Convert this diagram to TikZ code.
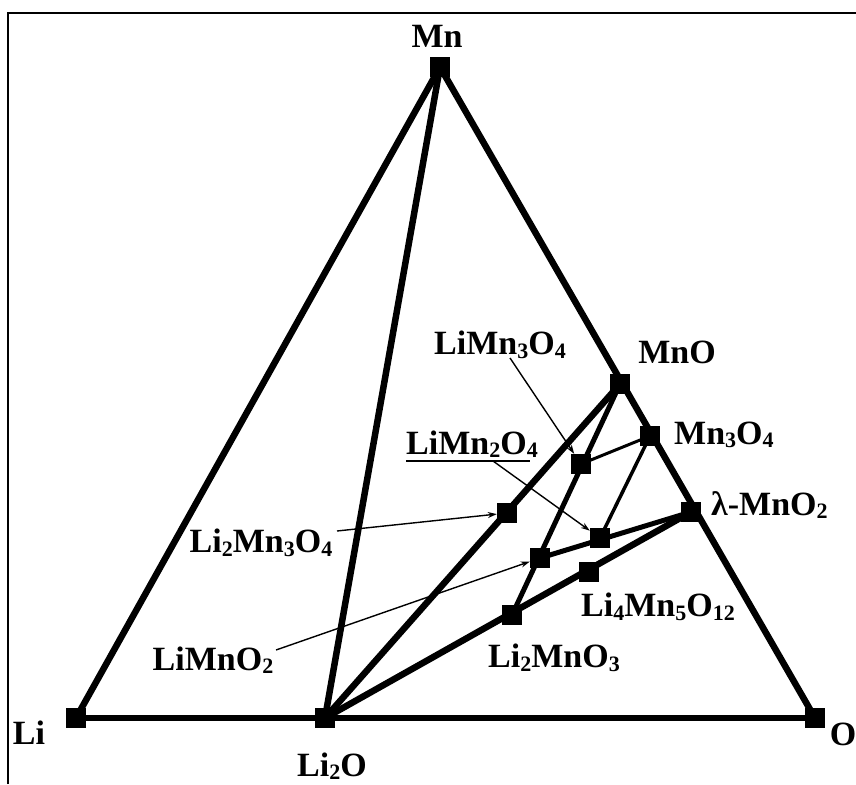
\documentclass[tikz,border=0pt]{standalone}
\usepackage{fontspec}
\setmainfont{Liberation Serif}
\usetikzlibrary{arrows.meta}
\newcommand{\sbs}[1]{\raisebox{-0.1em}{\fontsize{22}{22}\selectfont #1}}
\tikzset{
  sq/.style={rectangle, fill=black, minimum size=20pt, inner sep=0pt},
  lbl/.style={font=\fontsize{34}{34}\selectfont\bfseries, inner sep=0pt},
  thickln/.style={line width=6.5pt},
  midln/.style={line width=5pt},
  thinln/.style={line width=3pt},
  ptr/.style={line width=1.4pt, -{Stealth[length=9pt,width=6pt]}},
}
\begin{document}
\begin{tikzpicture}[x=1pt,y=-1pt]
\useasboundingbox (0,0) rectangle (856,784);
\fill[white] (0,0) rectangle (856,784);
\draw[line width=1.5pt] (8,784) -- (8,13) -- (856,13);

% squares
\node[sq] (Mn) at (440,67) {};
\node[sq] (Li) at (76,718) {};
\node[sq] (LiO) at (325,718) {};
\node[sq] (O) at (815,718) {};
\node[sq] (MnO) at (620,384) {};
\node[sq] (MnthreeO) at (650,436) {};
\node[sq] (lam) at (691,512) {};
\node[sq] (LiMnthree) at (581,464) {};
\node[sq] (LitwoMnthree) at (507,513) {};
\node[sq] (LiMntwo) at (600,538) {};
\node[sq] (LiMnOtwo) at (540,558) {};
\node[sq] (Lifour) at (589,572) {};
\node[sq] (LitwoMnO) at (512,615) {};

% main lines
\draw[thickln] (Li.center) -- (O.center);
\draw[thickln] (Li.center) -- (Mn.center);
\draw[thickln] (Mn.center) -- (O.center);
\draw[thickln] (LiO.center) -- (Mn.center);
\draw[thickln] (LiO.center) -- (MnO.center);
\draw[thickln] (LiO.center) -- (lam.center);
\draw[midln] (MnO.center) -- (LitwoMnO.center);
\draw[thinln] (MnthreeO.center) -- (LiMnthree.center);
\draw[line width=3.5pt] (MnthreeO.center) -- (LiMntwo.center);
\draw[midln] (LiMnOtwo.center) -- (lam.center);

% labels
\node[lbl] (tMn) at (437,36) {Mn};
\node[lbl] (tMnO) at (677,352) {MnO};
\node[lbl, anchor=west] (tMnthreeO) at (674,435) {Mn\sbs{3}O\sbs{4}};
\node[lbl, anchor=west] (tlam) at (711,505) {λ-MnO\sbs{2}};
\node[lbl] (tLiMnthree) at (500,345) {LiMn\sbs{3}O\sbs{4}};
\node[lbl] (tLiMntwo) at (472,444) {LiMn\sbs{2}O\sbs{4}};
\node[lbl] (tLitwoMnthree) at (261,543) {Li\sbs{2}Mn\sbs{3}O\sbs{4}};
\node[lbl] (tLiMnOtwo) at (213,660) {LiMnO\sbs{2}};
\node[lbl] (tLifour) at (658,607) {Li\sbs{4}Mn\sbs{5}O\sbs{12}};
\node[lbl] (tLitwoMnO) at (554,658) {Li\sbs{2}MnO\sbs{3}};
\node[lbl] (tLi) at (29,733) {Li};
\node[lbl] (tLiO) at (332,766) {Li\sbs{2}O};
\node[lbl] (tO) at (843,734) {O};

% underline
\coordinate (ulA) at (406,461);
\coordinate (ulB) at (530,461);
\draw[line width=1.4pt] (ulA) -- (ulB);

% pointers
\coordinate (pA) at (510,358);
\coordinate (pB) at (493,461);
\coordinate (pC) at (337,531);
\coordinate (pD) at (276,650);
\draw[ptr] (pA) -- (LiMnthree);
\draw[ptr] (pB) -- (LiMntwo);
\draw[ptr] (pC) -- (LitwoMnthree);
\draw[ptr] (pD) -- (LiMnOtwo);
\end{tikzpicture}
\end{document}
